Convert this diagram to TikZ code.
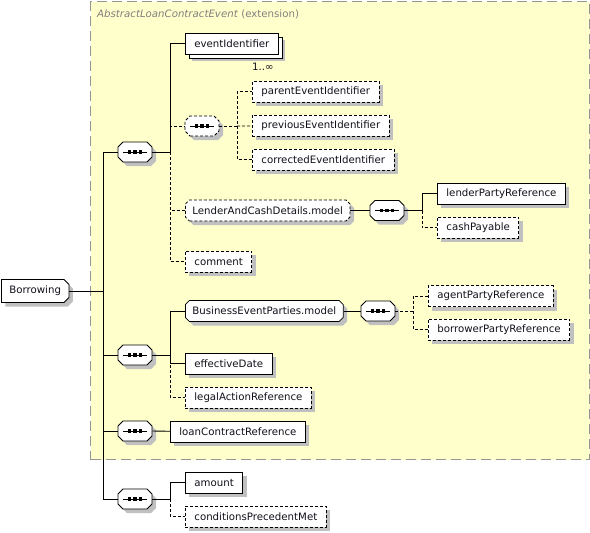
\documentclass[tikz,border=0pt]{standalone}
\usepackage{fontspec}
\setmainfont{DejaVu Sans}
\usetikzlibrary{shadows,positioning}
\definecolor{extfill}{HTML}{FFFFCC}
\definecolor{extline}{HTML}{959595}
\definecolor{shadowgray}{HTML}{C0C0C0}
\definecolor{ink}{HTML}{10101A}

% box with cut corners (left and right cut set apart)
\makeatletter
\pgfkeys{/pgf/cut west/.initial=4pt,/pgf/cut east/.initial=4pt}
\pgfdeclareshape{cutbox}{%
  \inheritsavedanchors[from=rectangle]%
  \inheritanchorborder[from=rectangle]%
  \inheritanchor[from=rectangle]{center}%
  \inheritanchor[from=rectangle]{mid}%
  \inheritanchor[from=rectangle]{base}%
  \inheritanchor[from=rectangle]{north}%
  \inheritanchor[from=rectangle]{south}%
  \inheritanchor[from=rectangle]{west}%
  \inheritanchor[from=rectangle]{east}%
  \inheritanchor[from=rectangle]{north west}%
  \inheritanchor[from=rectangle]{north east}%
  \inheritanchor[from=rectangle]{south west}%
  \inheritanchor[from=rectangle]{south east}%
  \backgroundpath{%
    \pgfmathsetlengthmacro\cb@ox{\pgfkeysvalueof{/pgf/outer xsep}}%
    \pgfmathsetlengthmacro\cb@oy{\pgfkeysvalueof{/pgf/outer ysep}}%
    \pgfmathsetlengthmacro\cb@w{\pgfkeysvalueof{/pgf/cut west}}%
    \pgfmathsetlengthmacro\cb@e{\pgfkeysvalueof{/pgf/cut east}}%
    \southwest\edef\cb@x{\the\pgf@x}\edef\cb@y{\the\pgf@y}%
    \northeast\edef\cb@X{\the\pgf@x}\edef\cb@Y{\the\pgf@y}%
    \pgfmathsetlengthmacro\cb@x{\cb@x+\cb@ox}%
    \pgfmathsetlengthmacro\cb@y{\cb@y+\cb@oy}%
    \pgfmathsetlengthmacro\cb@X{\cb@X-\cb@ox}%
    \pgfmathsetlengthmacro\cb@Y{\cb@Y-\cb@oy}%
    \pgfpathmoveto{\pgfpoint{\cb@x+\cb@w}{\cb@y}}%
    \pgfpathlineto{\pgfpoint{\cb@X-\cb@e}{\cb@y}}%
    \pgfpathlineto{\pgfpoint{\cb@X}{\cb@y+\cb@e}}%
    \pgfpathlineto{\pgfpoint{\cb@X}{\cb@Y-\cb@e}}%
    \pgfpathlineto{\pgfpoint{\cb@X-\cb@e}{\cb@Y}}%
    \pgfpathlineto{\pgfpoint{\cb@x+\cb@w}{\cb@Y}}%
    \pgfpathlineto{\pgfpoint{\cb@x}{\cb@Y-\cb@w}}%
    \pgfpathlineto{\pgfpoint{\cb@x}{\cb@y+\cb@w}}%
    \pgfpathclose
  }%
}
\makeatother

\begin{document}
\begin{tikzpicture}[
    x=1pt, y=-1pt,
    font=\fontsize{10.2}{12}\selectfont,
    text=ink,
    boxshadow/.style={drop shadow={shadow xshift=4pt,shadow yshift=-4pt,fill=shadowgray,opacity=1}},
    elembase/.style={draw,fill=white,line width=0.8pt,minimum height=21pt,inner xsep=9pt,inner ysep=2pt,anchor=west},
    elem/.style={elembase,boxshadow},
    optelem/.style={elem,dash pattern=on 3pt off 2pt},
    multi/.style={elembase,
      drop shadow={shadow xshift=7pt,shadow yshift=-7pt,fill=shadowgray,opacity=1},
      copy shadow={shadow xshift=4pt,shadow yshift=-4pt,draw,fill=white,line width=0.8pt}},
    rootbox/.style={cutbox,cut west=0pt,cut east=5pt,draw,fill=white,line width=0.8pt,boxshadow,
      minimum height=23pt,inner xsep=8pt,anchor=west},
    grp/.style={cutbox,cut west=4pt,cut east=4pt,draw,fill=white,line width=0.8pt,boxshadow,
      minimum height=21pt,inner xsep=7pt,anchor=west},
    optgrp/.style={grp,dash pattern=on 3pt off 2pt},
    seqbox/.style={cutbox,cut west=5pt,cut east=5pt,draw,fill=white,line width=0.8pt,boxshadow,
      minimum width=34pt,minimum height=20pt,inner sep=0pt,
      path picture={
        \draw[solid,black,line width=0.9pt] ([xshift=-12pt]path picture bounding box.center) -- ([xshift=12pt]path picture bounding box.center);
        \foreach \dx in {-5.5,0,5.5}
          \fill[black] ([xshift=\dx pt]path picture bounding box.center) +(-1.6pt,-1.6pt) rectangle +(1.6pt,1.6pt);
      }},
    optseq/.style={seqbox,dash pattern=on 3pt off 2pt},
    card/.style={inner sep=1pt},
    extbox/.style={draw=extline,fill=extfill,line width=1.2pt,dash pattern=on 10pt off 5pt,inner sep=0pt,anchor=north west},
    extlbl/.style={text=black!50,anchor=west,inner sep=0pt},
    link/.style={line width=0.8pt},
    optlink/.style={link,dash pattern=on 3pt off 2pt}
  ]
    \useasboundingbox (0,0) rectangle (590,533);

    % extension base type
    \node[extbox,minimum width=499pt,minimum height=458pt] (ext) at (90,1) {};
    \node[extlbl] (extname) at (97,14) {\textit{AbstractLoanContractEvent} (extension)};

    \node[rootbox] (borrowing) at (1,291) {Borrowing};

    \node[seqbox] (seqA) at (135,152) {};
    \node[seqbox] (seqB) at (135,355) {};
    \node[seqbox] (seqC) at (135,431) {};
    \node[seqbox] (seqD) at (135,499) {};

    % first sequence
    \node[multi] (evid) at (185,43.5) {eventIdentifier};
    \node[card,anchor=north east] (evidmax) at ([xshift=-4pt,yshift=-7pt]evid.south east) {1..∞};
    \node[optseq] (idseq) at (202,126) {};
    \node[optelem] (parentid) at (252,91.5) {parentEventIdentifier};
    \node[optelem] (previd) at (252,125.5) {previousEventIdentifier};
    \node[optelem] (corrid) at (252,159.5) {correctedEventIdentifier};
    \node[optgrp] (lcd) at (185,210.5) {LenderAndCashDetails.model};
    \node[seqbox] (lcdseq) at (387,210.5) {};
    \node[elem] (lender) at (437,193.5) {lenderPartyReference};
    \node[optelem] (cash) at (437,227.5) {cashPayable};
    \node[optelem] (comment) at (185,261.5) {comment};

    % second sequence
    \node[grp] (bep) at (185,311) {BusinessEventParties.model};
    \node[seqbox] (bepseq) at (378,311) {};
    \node[optelem] (agent) at (428,296) {agentPartyReference};
    \node[optelem] (borrower) at (428,329.5) {borrowerPartyReference};
    \node[elem] (effdate) at (185,363.5) {effectiveDate};
    \node[optelem] (legal) at (185,397.5) {legalActionReference};

    % third and fourth sequence
    \node[elem] (loan) at (170,431.5) {loanContractReference};
    \node[elem] (amount) at (185,482.5) {amount};
    \node[optelem] (condprec) at (185,516.5) {conditionsPrecedentMet};

    % bus points
    \coordinate (rb) at (103,291);
    \coordinate (ba) at (170,152);
    \coordinate (bo) at (237,126);
    \coordinate (bl) at (422,210.5);
    \coordinate (bb) at (170,355);
    \coordinate (bp) at (413,311);
    \coordinate (bd) at (170,499);

    \draw[link] (borrowing) -- (rb);
    \draw[link] (rb) |- (seqA);
    \draw[link] (rb) |- (seqB);
    \draw[link] (rb) |- (seqC);
    \draw[link] (rb) |- (seqD);

    \draw[link] (seqA) -- (ba) |- (evid);
    \draw[optlink] (ba) |- (idseq);
    \draw[optlink] (ba) |- (lcd);
    \draw[optlink] (ba) |- (comment);
    \draw[optlink] (idseq) -- (bo) |- (parentid);
    \draw[optlink] (bo) -- (previd);
    \draw[optlink] (bo) |- (corrid);
    \draw[link] (lcd) -- (lcdseq);
    \draw[link] (lcdseq) -- (bl) |- (lender);
    \draw[optlink] (bl) |- (cash);

    \draw[link] (seqB) -- (bb) |- (bep);
    \draw[link] (bb) |- (effdate);
    \draw[optlink] (bb) |- (legal);
    \draw[link] (bep) -- (bepseq);
    \draw[optlink] (bepseq) -- (bp) |- (agent);
    \draw[optlink] (bp) |- (borrower);

    \draw[link] (seqC) -- (loan);
    \draw[link] (seqD) -- (bd) |- (amount);
    \draw[optlink] (bd) |- (condprec);
  \end{tikzpicture}
\end{document}
